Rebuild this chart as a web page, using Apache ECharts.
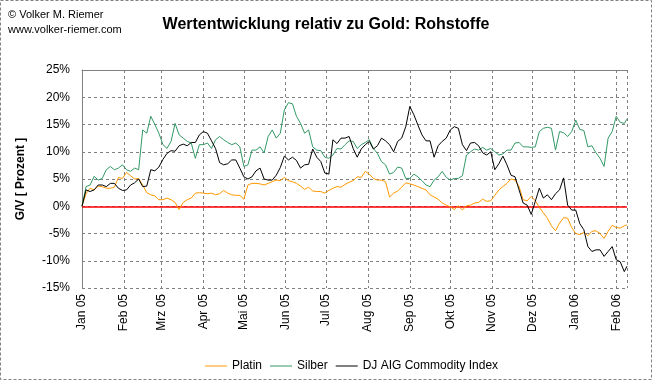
<!DOCTYPE html>
<html><head><meta charset="utf-8">
<script src="https://cdn.jsdelivr.net/npm/echarts@6/dist/echarts.min.js"></script>
<style>html,body{margin:0;padding:0;background:#fff}#c{width:652px;height:380px}</style>
</head><body><div id="c"></div>
<script>
const dates = [
'2005-01-01','2005-01-04','2005-01-07','2005-01-10','2005-01-13','2005-01-16','2005-01-19','2005-01-22','2005-01-25','2005-01-28',
'2005-01-31','2005-02-03','2005-02-06','2005-02-09','2005-02-12','2005-02-15','2005-02-18','2005-02-21','2005-02-24','2005-02-27',
'2005-03-02','2005-03-05','2005-03-08','2005-03-11','2005-03-14','2005-03-17','2005-03-20','2005-03-23','2005-03-26','2005-03-29',
'2005-04-01','2005-04-04','2005-04-07','2005-04-10','2005-04-13','2005-04-16','2005-04-19','2005-04-22','2005-04-25','2005-04-28',
'2005-05-01','2005-05-04','2005-05-07','2005-05-10','2005-05-13','2005-05-16','2005-05-19','2005-05-22','2005-05-25','2005-05-28',
'2005-05-31','2005-06-03','2005-06-06','2005-06-09','2005-06-12','2005-06-15','2005-06-18','2005-06-21','2005-06-24','2005-06-27',
'2005-06-30','2005-07-03','2005-07-06','2005-07-09','2005-07-12','2005-07-15','2005-07-18','2005-07-21','2005-07-24','2005-07-27',
'2005-07-30','2005-08-02','2005-08-05','2005-08-08','2005-08-11','2005-08-14','2005-08-17','2005-08-20','2005-08-23','2005-08-26',
'2005-08-29','2005-09-01','2005-09-04','2005-09-07','2005-09-10','2005-09-13','2005-09-16','2005-09-19','2005-09-22','2005-09-25',
'2005-09-28','2005-10-01','2005-10-04','2005-10-07','2005-10-10','2005-10-13','2005-10-16','2005-10-19','2005-10-22','2005-10-25',
'2005-10-28','2005-10-31','2005-11-03','2005-11-06','2005-11-09','2005-11-12','2005-11-15','2005-11-18','2005-11-21','2005-11-24',
'2005-11-27','2005-11-30','2005-12-03','2005-12-06','2005-12-09','2005-12-12','2005-12-15','2005-12-18','2005-12-21','2005-12-24',
'2005-12-27','2005-12-30','2006-01-02','2006-01-05','2006-01-08','2006-01-11','2006-01-14','2006-01-17','2006-01-20','2006-01-23',
'2006-01-26','2006-01-29','2006-02-01','2006-02-04','2006-02-07','2006-02-09'
];
const platin = [
0,2.3,3.3,3.0,3.7,3.6,3.3,3.3,3.5,5.3,
5.1,6.2,5.6,5.0,5.1,3.9,2.5,2.1,1.9,1.2,
1.2,1.5,1.2,0.7,-0.6,0.7,1.2,1.5,2.4,2.5,
2.4,2.3,2.4,2.1,2.3,2.9,2.4,2.1,2.0,2.0,
1.3,3.9,4.2,4.2,4.1,3.9,4.2,4.5,4.8,4.7,
5.3,4.7,4.5,4.2,3.7,3.1,3.5,2.8,2.7,2.7,
2.4,2.9,3.3,3.6,3.5,4.0,4.4,4.7,5.4,5.3,
6.4,5.9,5.1,4.8,4.8,4.5,1.7,2.4,2.8,3.5,
4.3,4.1,3.9,3.6,3.3,3.0,2.1,1.7,1.3,0.6,
0.2,-0.1,-0.6,0.1,-0.7,0.1,0.2,0.6,0.7,1.3,
0.9,1.0,2.0,3.0,3.6,4.2,5.0,4.8,3.6,1.2,
1.0,1.8,1.0,-0.2,-1.2,-2.2,-3.6,-4.5,-3.1,-2.1,
-2.2,-3.9,-5.0,-5.2,-4.8,-5.4,-4.6,-4.5,-5.0,-5.9,
-4.6,-3.5,-3.9,-4.0,-3.6,-3.4
];
const silber = [
0,3.6,3.9,5.5,4.8,5.1,6.7,7.3,6.7,7.0,
7.6,6.7,6.4,7.0,6.7,14.0,13.4,16.5,15.0,13.4,
11.3,10.6,11.9,15.2,13.1,12.5,11.9,11.6,8.8,11.3,
11.3,11.6,10.6,12.2,12.8,12.2,11.7,11.3,11.6,10.9,
7.3,7.6,10.3,10.3,10.9,9.8,12.8,14.0,12.5,13.4,
17.7,19.0,18.8,16.5,15.2,13.4,14.0,10.9,10.3,10.2,
9.0,8.8,9.4,10.6,10.5,11.3,12.0,11.9,10.6,11.3,
11.7,12.2,10.6,9.7,8.2,7.6,5.9,6.2,7.2,7.0,
5.1,5.1,5.9,5.4,4.7,3.9,3.6,4.8,5.4,6.4,
5.3,4.8,5.1,5.1,5.6,9.4,10.0,10.5,10.3,10.8,
10.3,10.6,10.0,9.4,9.6,10.3,10.3,11.6,11.7,10.9,
10.9,10.8,10.9,13.7,14.3,14.5,14.3,10.3,13.7,13.5,
12.8,13.7,15.8,14.1,13.9,10.9,11.1,9.8,8.8,7.3,
12.5,13.7,16.5,15.4,15.2,16.0
];
const djaig = [
0,3.0,2.7,3.0,3.9,3.9,3.6,4.2,4.2,3.3,
2.9,3.0,3.9,4.3,5.0,3.6,3.7,6.7,6.5,7.2,
8.6,9.7,10.2,10.1,11.1,11.4,11.1,11.7,11.7,13.1,
13.7,13.4,12.0,10.6,8.0,7.6,7.8,8.5,8.5,7.0,
5.4,5.0,5.4,6.5,7.0,5.0,4.8,4.8,5.7,7.1,
9.2,8.5,9.0,8.4,7.0,7.6,7.7,10.5,9.0,8.2,
6.1,5.9,12.2,11.5,12.5,12.5,12.8,10.6,9.0,10.5,
11.3,11.9,10.5,11.1,12.5,12.0,11.3,10.0,11.9,12.5,
14.6,18.3,16.8,14.9,13.1,12.0,12.0,9.0,11.1,11.9,
12.5,14.0,14.6,14.3,11.3,10.2,11.6,11.7,11.1,9.8,
9.4,10.0,6.7,7.8,9.2,7.6,5.7,5.4,3.0,0.6,
0.2,-1.5,0.9,3.3,1.5,2.1,1.2,2.3,3.0,5.2,
0.2,-0.7,-0.7,-3.2,-4.3,-7.4,-8.3,-8.0,-8.0,-9.2,
-8.3,-7.4,-9.8,-10.2,-12.0,-11.0
];
const monthTicks = ['2005-01-01','2005-02-01','2005-03-01','2005-04-01','2005-05-01','2005-06-01','2005-07-01',
  '2005-08-01','2005-09-01','2005-10-01','2005-11-01','2005-12-01','2006-01-01','2006-02-01'];
const axisStart = '2005-01-01';
const axisEnd = '2006-02-09';
const monthNames = ['Jan','Feb','Mrz','Apr','Mai','Jun','Jul','Aug','Sep','Okt','Nov','Dez'];
const seriesNames = ['Platin','Silber','DJ AIG Commodity Index'];
const seriesColors = ['#ff9900','#339966','#000000'];

const FONT = '"Liberation Sans", Arial, sans-serif';
const ts = s => { const p = s.split('-').map(Number); return Date.UTC(p[0], p[1] - 1, p[2]); };
const toPairs = vals => dates.map((d, i) => [ts(d), vals[i]]);
const chart = echarts.init(document.getElementById('c'), null, {renderer: 'canvas'});
const mkSeries = (name, vals, color, extra) => Object.assign({
  name, type: 'line', data: toPairs(vals), symbol: 'none', showSymbol: false,
  lineStyle: {color, width: 1}, itemStyle: {color}, animation: false, z: 3
}, extra || {});

chart.setOption({
  backgroundColor: '#ffffff',
  animation: false,
  title: {
    text: 'Wertentwicklung relativ zu Gold: Rohstoffe',
    left: 'center', top: 17, padding: 0,
    textStyle: {fontFamily: FONT, fontSize: 16, fontWeight: 'bold', color: '#000'}
  },
  graphic: [
    {type: 'rect', shape: {x: 0.5, y: 0.5, width: 651, height: 379},
     style: {fill: 'none', stroke: '#808080', lineWidth: 1, lineDash: [3, 2]}, silent: true},
    {type: 'text', left: 8, top: 9, style: {text: '© Volker M. Riemer', font: '11px ' + FONT, fill: '#000'}},
    {type: 'text', left: 8, top: 24, style: {text: 'www.volker-riemer.com', font: '11px ' + FONT, fill: '#000'}}
  ],
  legend: {
    left: 200, top: 355, icon: 'rect', itemWidth: 22, itemHeight: 1, itemGap: 8,
    textStyle: {fontFamily: FONT, fontSize: 12, color: '#000'},
    data: seriesNames
  },
  grid: {left: 82, right: 25, top: 70, bottom: 92},
  xAxis: [{
    type: 'value', min: ts(axisStart), max: ts(axisEnd),
    axisLine: {show: false},
    axisTick: {show: false, customValues: monthTicks.concat([axisEnd]).map(ts)},
    axisLabel: {
      customValues: monthTicks.map(ts), rotate: 90, margin: 6, fontFamily: FONT, fontSize: 12, color: '#000',
      formatter: v => { const d = new Date(v); return monthNames[d.getUTCMonth()] + ' ' + String(d.getUTCFullYear()).slice(2); }
    },
    splitLine: {show: true, lineStyle: {color: '#808080', type: [3, 3], width: 1}}
  }, {
    type: 'value', position: 'top', min: 0, max: 1,
    axisLine: {show: true, lineStyle: {color: '#808080', width: 1}},
    axisTick: {show: false}, axisLabel: {show: false}, splitLine: {show: false}
  }],
  yAxis: {
    type: 'value', min: -15, max: 25, interval: 5,
    name: 'G/V [ Prozent ]', nameLocation: 'middle', nameGap: 55,
    nameTextStyle: {fontFamily: FONT, fontSize: 12, fontWeight: 'bold', color: '#000'},
    axisLine: {show: true, lineStyle: {color: '#808080', width: 1}},
    axisTick: {show: false},
    axisLabel: {formatter: '{value}%', margin: 12, fontFamily: FONT, fontSize: 12, color: '#000'},
    splitLine: {show: true, lineStyle: {color: '#808080', type: [3, 3], width: 1}}
  },
  series: [
    mkSeries(seriesNames[0], platin, seriesColors[0], {
      markLine: {silent: true, symbol: 'none', label: {show: false},
        lineStyle: {color: '#ff0000', type: 'solid', width: 1.5}, data: [{yAxis: 0}], z: 2}
    }),
    mkSeries(seriesNames[1], silber, seriesColors[1]),
    mkSeries(seriesNames[2], djaig, seriesColors[2])
  ]
});
</script></body></html>
